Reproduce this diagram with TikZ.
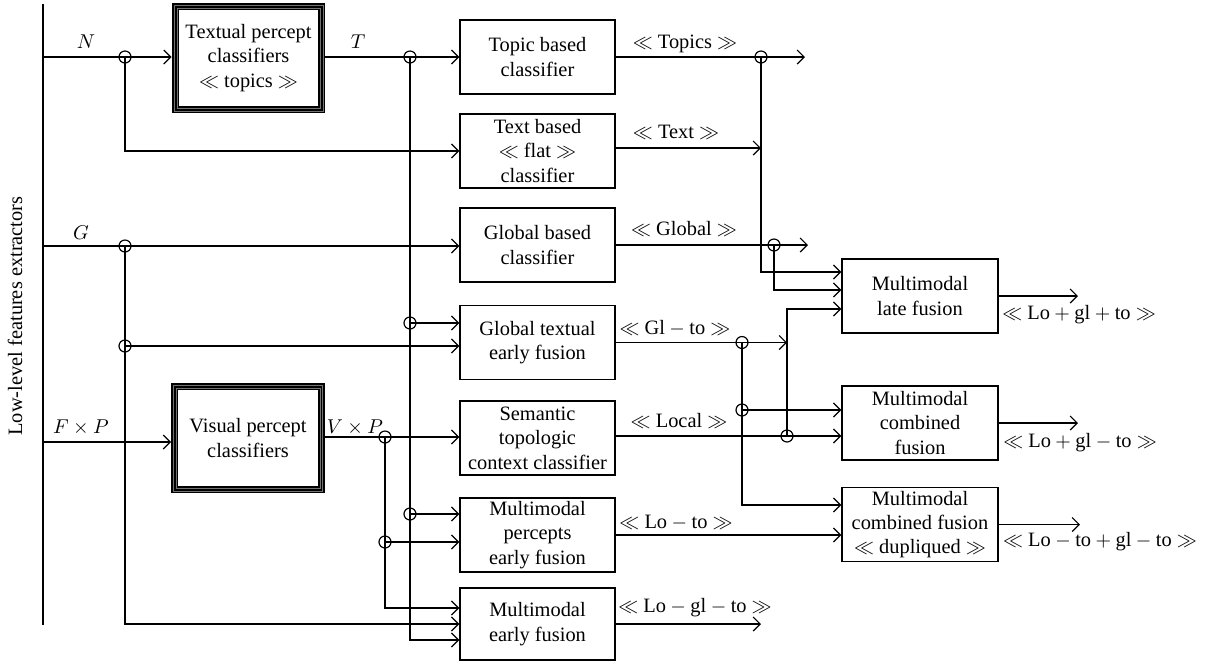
\documentclass[tikz,border=0pt]{standalone}
\usepackage{fontspec}
\setmainfont{Liberation Serif}
\usetikzlibrary{arrows.meta,calc}
\newcommand{\fs}{\fontsize{10.2}{12.2}\selectfont}
\begin{document}
\begin{tikzpicture}[x=0.5pt,y=-0.5pt,
  box/.style={draw, line width=0.7pt, minimum width=77.5pt, minimum height=37pt, inner sep=0pt, align=center, font=\fs},
  rbox/.style={box, minimum width=78pt},
  heavybox/.style={minimum width=76.5pt, minimum height=55pt, inner sep=0pt, align=center, font=\fs},
  junc/.style={circle, draw, line width=0.6pt, minimum size=6pt, inner sep=0pt},
  lab/.style={inner sep=0pt, font=\fs},
  arr/.style={line width=0.6pt, -{Straight Barb[length=3.5pt,width=7pt]}},
  conn/.style={line width=0.6pt}]
\useasboundingbox (0,0) rectangle (1205,661);

% rotated label and bar
\node[lab, rotate=90] (lowlab) at (15,316) {Low-level features extractors};
\coordinate (barT) at (43,4);
\coordinate (barB) at (43,625);
\draw[line width=1pt] (barT) -- (barB);

% heavy boxes
\node[heavybox] (textual) at (248.5,58) {Textual percept\\classifiers\\$\ll$ topics $\gg$};
\node[heavybox] (visual) at (248,438) {Visual percept\\classifiers};
\foreach \b in {textual,visual}{
  \draw[line width=3.5pt] ([shift={(1.75pt,-1.75pt)}]\b.north west) rectangle ([shift={(-1.75pt,1.75pt)}]\b.south east);
  \draw[black!55, line width=0.2pt] ([shift={(1.2pt,-1.2pt)}]\b.north west) rectangle ([shift={(-1.2pt,1.2pt)}]\b.south east);
  \draw[black!55, line width=0.2pt] ([shift={(2.6pt,-2.6pt)}]\b.north west) rectangle ([shift={(-2.6pt,2.6pt)}]\b.south east);
}

% middle boxes
\node[box] (topic) at (537.5,57) {Topic based\\classifier};
\node[box] (textb) at (537.5,151) {Text based\\$\ll$ flat $\gg$\\classifier};
\node[box] (global) at (537.5,245) {Global based\\classifier};
\node[box] (gtef) at (537.5,342.5) {Global textual\\early fusion};
\node[box] (sem) at (537.5,438) {Semantic\\topologic\\context classifier};
\node[box] (mpef) at (537.5,535) {Multimodal\\percepts\\early fusion};
\node[box, minimum height=36pt] (mef) at (537.5,624) {Multimodal\\early fusion};

% right boxes
\node[rbox] (late) at (920,296) {Multimodal\\late fusion};
\node[rbox] (comb) at (920,423) {Multimodal\\combined\\fusion};
\node[rbox] (dup) at (920,524.5) {Multimodal\\combined fusion\\$\ll$ dupliqued $\gg$};

% junctions
\node[junc] (jN) at (125,57) {};
\node[junc] (jT) at (410,57) {};
\node[junc] (jTop) at (761,57) {};
\node[junc] (jG) at (125,246) {};
\node[junc] (jG2) at (125,346) {};
\node[junc] (jT2) at (410,323) {};
\node[junc] (jGl) at (774,245) {};
\node[junc] (jGt) at (742,342.5) {};
\node[junc] (jGt2) at (742,410) {};
\node[junc] (jLoc) at (787,436) {};
\node[junc] (jV) at (385,437) {};
\node[junc] (jV2) at (385,542) {};
\node[junc] (jT3) at (410,514) {};

% free ends / start points
\coordinate (sN) at (43,57);
\coordinate (sG) at (43,246);
\coordinate (sF) at (43,442);
\coordinate (eTop) at (805,57);
\coordinate (eGl) at (808,245);
\coordinate (eMef) at (761,624);
\coordinate (eOut) at (1078,0);
\coordinate (eOut2) at (1080,0);
\coordinate (tbo) at ([yshift=1.5pt]textb.east);
\coordinate (semo) at ([yshift=1pt]sem.east);

% connectors
\draw[arr] (sN) -- (sN -| textual.west);
\draw[arr] (textual.east |- jT.center) -- (jT.center -| topic.west);
\draw[arr] (jN.center) |- (textb.west);
\draw[arr] (jT.center) |- ([yshift=-8pt]mef.west);
\draw[arr] (sG) -- (sG -| global.west);
\draw[arr] (jG.center) |- (mef.west);
\draw[arr] (jG2.center) -- (jG2.center -| gtef.west);
\draw[arr] (jT2.center) -- (jT2.center -| gtef.west);
\draw[arr] (sF) -- (sF -| visual.west);
\draw[arr] (visual.east |- jV.center) -- (jV.center -| sem.west);
\draw[arr] (jV.center) |- ([yshift=8pt]mef.west);
\draw[arr] (jV2.center) -- (jV2.center -| mpef.west);
\draw[arr] (jT3.center) -- (jT3.center -| mpef.west);
\draw[arr] (topic.east) -- (eTop);
\draw[arr] (jTop.center) |- ([yshift=12pt]late.west);
\draw[arr] (tbo) -- (tbo -| jTop.center);
\draw[arr] (global.east) -- (eGl);
\draw[arr] (jGl.center) |- ([yshift=3pt]late.west);
\draw[arr] (jLoc.center) |- ([yshift=-6.5pt]late.west);
\draw[arr] (gtef.east) -- (gtef.east -| jLoc.center);
\draw[arr] (jGt.center) |- ([yshift=9.75pt]dup.west);
\draw[arr] (jGt2.center) -- (jGt2.center -| comb.west);
\draw[arr] (semo) -- (semo -| comb.west);
\draw[arr] (mpef.east) -- (mpef.east -| dup.west);
\draw[arr] (mef.east) -- (mef.east -| eMef);
\draw[arr] (late.east) -- (late.east -| eOut);
\draw[arr] (comb.east) -- (comb.east -| eOut);
\draw[arr] (dup.east) -- (dup.east -| eOut2);

% labels
\node[lab] (lN) at (86,42) {$N$};
\node[lab] (lT) at (358,42) {$T$};
\node[lab] (lG) at (81,233) {$G$};
\node[lab] (lF) at (81,427) {$F\times P$};
\node[lab] (lV) at (355,427) {$V\times P$};
\node[lab] (lTop) at (685,44) {$\ll$ Topics $\gg$};
\node[lab] (lText) at (676,132) {$\ll$ Text $\gg$};
\node[lab] (lGlob) at (684,229) {$\ll$ Global $\gg$};
\node[lab] (lGlto) at (675,328) {$\ll$ Gl${}-{}$to $\gg$};
\node[lab] (lLoc) at (679,421) {$\ll$ Local $\gg$};
\node[lab] (lLoto) at (676,523) {$\ll$ Lo${}-{}$to $\gg$};
\node[lab] (lLoglto) at (695,608) {$\ll$ Lo${}-{}$gl${}-{}$to $\gg$};
\node[lab] (lLate) at (1079,315) {$\ll$ Lo${}+{}$gl${}+{}$to $\gg$};
\node[lab] (lComb) at (1080,443) {$\ll$ Lo${}+{}$gl${}-{}$to $\gg$};
\node[lab] (lDup) at (1100,542) {$\ll$ Lo${}-{}$to${}+{}$gl${}-{}$to $\gg$};
\end{tikzpicture}
\end{document}
